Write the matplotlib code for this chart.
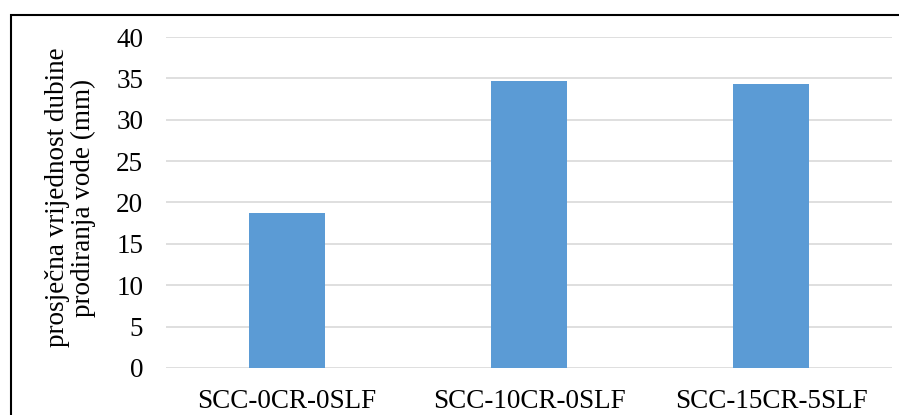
import matplotlib.pyplot as plt
from matplotlib.patches import Rectangle

# ## Data
categories = ['SCC-0CR-0SLF', 'SCC-10CR-0SLF', 'SCC-15CR-5SLF']
values = [18.7, 34.7, 34.3]
yticks = [0, 5, 10, 15, 20, 25, 30, 35, 40]

plt.rcParams['font.family'] = ['Liberation Serif', 'DejaVu Serif']
fs = 19.5

fig = plt.figure(figsize=(8.99, 4.15), dpi=100)
ax = fig.add_axes([0.1847, 0.1133, 0.8075, 0.7975])

x = range(len(categories))
ax.bar(x, values, width=0.314, color='#5B9BD5', zorder=3)

ax.set_xlim(-0.5, len(categories) - 0.5)
ax.set_ylim(0, 40)
ax.set_yticks(yticks)
ax.set_xticks(list(x))
ax.set_xticklabels(categories, fontsize=fs)
ax.tick_params(axis='y', labelsize=fs, length=0, pad=16.5)
ax.tick_params(axis='x', length=0, pad=15)
ax.grid(axis='y', color='#D9D9D9', linewidth=1.2, zorder=0)
for s in ax.spines.values():
    s.set_visible(False)

ax.set_ylabel('prosječna vrijednost dubine\nprodiranja vode (mm)', fontsize=fs,
              linespacing=1.05)
ax.yaxis.set_label_coords(-0.097, 0.515)

# outer chart frame (cut off at right and bottom)
fig.patches.append(Rectangle((11 / 899, -0.1), 1.2, 1 - 15 / 415 + 0.1,
                             transform=fig.transFigure, fill=False,
                             edgecolor='black', linewidth=1.5))

plt.savefig('out.png')
